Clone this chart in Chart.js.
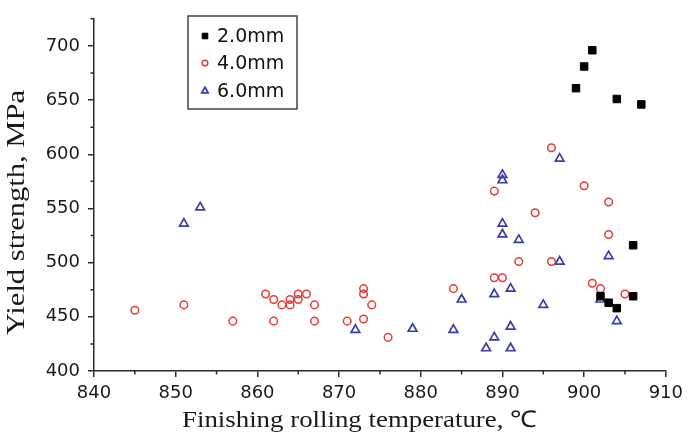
<!DOCTYPE html>
<html>
<head>
<meta charset="utf-8">
<script src="https://cdn.jsdelivr.net/npm/chart.js@4.4.1/dist/chart.umd.min.js"></script>
<style>
  html, body { margin: 0; padding: 0; background: #fff; }
</style>
</head>
<body>
<canvas id="chart" width="689" height="441"></canvas>
<script>
// ── Data: finishing temperature (°C) vs yield strength (MPa) ──
const temp20  = [899, 900, 901, 904, 907, 906, 906, 902, 903, 904];
const yield20 = [661, 681, 696, 651, 646, 516, 469, 469, 463, 458];

const temp40  = [845, 851, 857, 861, 862, 862, 863, 864, 864, 865, 865, 866, 867, 867, 871,
                 873, 873, 873, 874, 876, 884, 889, 890, 892, 896, 901, 902, 905, 903, 896,
                 900, 903, 889, 894];
const yield40 = [456, 461, 446, 471, 466, 446, 461, 466, 461, 471, 466, 471, 461, 446, 446,
                 476, 471, 448, 461, 431, 476, 486, 486, 501, 501, 481, 476, 471, 526, 606,
                 571, 556, 566, 546];

const temp60  = [851, 853, 897, 890, 890, 890, 890, 892, 897, 903, 889, 891, 885, 895, 902,
                 904, 872, 879, 884, 891, 889, 888, 891];
const yield60 = [536, 551, 596, 581, 576, 536, 526, 521, 501, 506, 471, 476, 466, 461, 466,
                 446, 438, 439, 438, 441, 431, 421, 421];

const xTicks = [840, 850, 860, 870, 880, 890, 900, 910];
const xMinor = [845, 855, 865, 875, 885, 895, 905];
const yTicks = [400, 450, 500, 550, 600, 650, 700];
const yMinor = [425, 475, 525, 575, 625, 675, 725];

const seriesNames = ['2.0mm', '4.0mm', '6.0mm'];

// ── Styles ──
const AXIS = '#2b2b2b';
const RED  = '#e63b36';
const BLUE = '#3a3ca8';
const NONE = 'rgba(0,0,0,0)';

const toPoints = (xs, ys) => xs.map((x, i) => ({ x, y: ys[i] }));

// draw text squeezed/stretched to a given width
function fitText(ctx, text, x, y, width, font, rotate) {
  ctx.save();
  ctx.font = font;
  const w = ctx.measureText(text).width;
  ctx.translate(x, y);
  if (rotate) ctx.rotate(-Math.PI / 2);
  ctx.scale(width / w, 1);
  ctx.textAlign = 'left';
  ctx.textBaseline = 'alphabetic';
  ctx.fillText(text, 0, 0);
  ctx.restore();
}

// minor ticks, axis titles and boxed legend
const decorations = {
  id: 'decorations',
  afterDraw(chart) {
    const { ctx, scales: { x, y } } = chart;
    ctx.save();
    ctx.strokeStyle = AXIS;
    ctx.lineWidth = 1.5;
    ctx.beginPath();
    xMinor.forEach(v => { const px = x.getPixelForValue(v); ctx.moveTo(px, x.top); ctx.lineTo(px, x.top + 3.5); });
    yMinor.forEach(v => { const py = y.getPixelForValue(v); ctx.moveTo(y.right, py); ctx.lineTo(y.right - 3.5, py); });
    ctx.stroke();

    ctx.fillStyle = '#1a1a1a';
    fitText(ctx, 'Finishing rolling temperature, ℃', 182, 427, 355, '23px "Liberation Serif"', false);
    fitText(ctx, 'Yield strength, MPa', 24, 335, 245, '25px "Liberation Serif"', true);

    // legend box
    ctx.strokeStyle = '#444';
    ctx.lineWidth = 1.5;
    ctx.strokeRect(188, 16, 109, 93);
    const rows = [36, 63, 91];
    chart.data.datasets.forEach((ds, i) => {
      ctx.fillStyle = ds.backgroundColor;
      ctx.strokeStyle = ds.borderColor;
      ctx.lineWidth = ds.borderWidth;
      Chart.helpers.drawPoint(ctx, {
        pointStyle: ds.pointStyle, radius: ds.pointRadius * 0.75, rotation: 0, borderWidth: ds.borderWidth
      }, 205, rows[i]);
      ctx.fillStyle = '#111';
      ctx.font = '19px "DejaVu Sans"';
      ctx.textAlign = 'left';
      ctx.textBaseline = 'middle';
      ctx.fillText(seriesNames[i], 217, rows[i] + 1);
    });
    ctx.restore();
  }
};

new Chart(document.getElementById('chart'), {
  type: 'scatter',
  data: {
    datasets: [
      { label: seriesNames[0], data: toPoints(temp20, yield20), pointStyle: 'rect', pointRadius: 5.3,
        backgroundColor: '#000', borderColor: '#000', borderWidth: 1 },
      { label: seriesNames[1], data: toPoints(temp40, yield40), pointStyle: 'circle', pointRadius: 3.8,
        backgroundColor: NONE, borderColor: RED, borderWidth: 1.5 },
      { label: seriesNames[2], data: toPoints(temp60, yield60), pointStyle: 'triangle', pointRadius: 5,
        backgroundColor: NONE, borderColor: BLUE, borderWidth: 1.7 },
    ],
  },
  options: {
    responsive: false,
    animation: false,
    layout: { padding: { top: 7, right: 20, left: 0, bottom: 0 } },
    plugins: { legend: { display: false }, tooltip: { enabled: false } },
    scales: {
      x: {
        type: 'linear', min: 840, max: 910,
        afterBuildTicks: s => { s.ticks = xTicks.map(value => ({ value })); },
        afterFit: s => { s.height = 70; },
        border: { color: AXIS, width: 1.5 },
        grid: { drawOnChartArea: false, tickLength: 6, color: AXIS, lineWidth: 1.5 },
        ticks: { color: '#1a1a1a', padding: 6, maxRotation: 0, font: { family: 'DejaVu Sans', size: 18 } },
      },
      y: {
        type: 'linear', min: 400, max: 725,
        afterBuildTicks: s => { s.ticks = yTicks.map(value => ({ value })); },
        afterFit: s => { s.width = 94; },
        border: { color: AXIS, width: 1.5 },
        grid: { drawOnChartArea: false, tickLength: 6, color: AXIS, lineWidth: 1.5 },
        ticks: { color: '#1a1a1a', padding: 8, font: { family: 'DejaVu Sans', size: 18 } },
      },
    },
  },
  plugins: [decorations],
});
</script>
</body>
</html>
